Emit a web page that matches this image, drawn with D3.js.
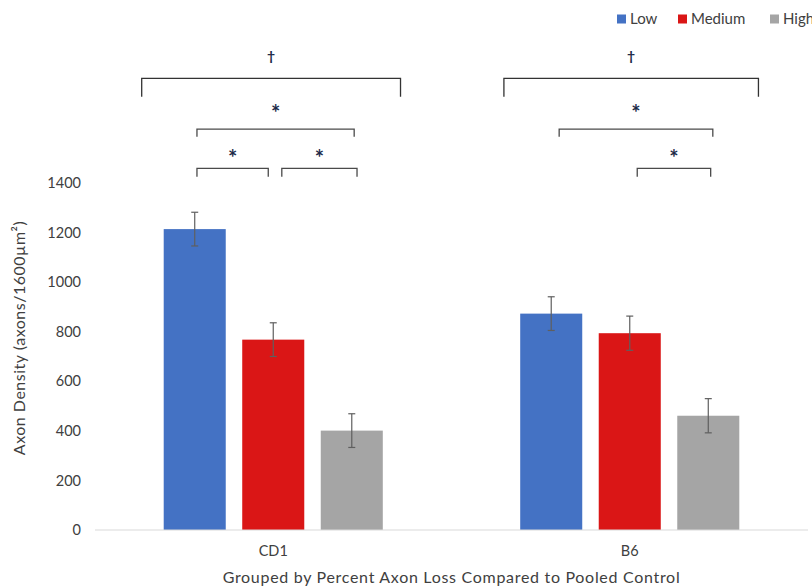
<!DOCTYPE html>
<html><head><meta charset="utf-8">
<script src="https://cdn.jsdelivr.net/npm/d3@7"></script>
<style>body{margin:0;background:#fff;} svg{display:block;}</style>
</head><body>
<svg id="chart" width="812" height="587"></svg>
<script>
// ---- data ----
const categories = ["CD1", "B6"];
const seriesNames = ["Low", "Medium", "High"];
const lowValues = [1214, 873];
const mediumValues = [768, 794];
const highValues = [401, 461];
const lowErrors = [68, 68];
const mediumErrors = [68, 69];
const highErrors = [68, 69];
const yTicks = [0, 200, 400, 600, 800, 1000, 1200, 1400];
const yLabel = "Axon Density (axons/1600µm²)";
const xLabel = "Grouped by Percent Axon Loss Compared to Pooled Control";
// significance brackets: group, start/end as fraction of group band, level (data units), label
const bracketGroups = ["CD1", "CD1", "CD1", "CD1", "B6", "B6", "B6"];
const bracketStart = [0.131, 0.286, 0.286, 0.524, 0.147, 0.302, 0.521];
const bracketEnd =   [0.857, 0.727, 0.486, 0.735, 0.861, 0.733, 0.727];
const bracketLevel = [1822, 1617, 1459, 1459, 1822, 1617, 1459];
const bracketDrop =  [74, 30, 34, 34, 74, 30, 34];
const bracketLabels = ["†", "*", "*", "*", "†", "*", "*"];

const colors = {Low: "#4472C4", Medium: "#DA1616", High: "#A5A5A5"};
const seriesValues = {Low: lowValues, Medium: mediumValues, High: highValues};
const seriesErrors = {Low: lowErrors, Medium: mediumErrors, High: highErrors};

const svg = d3.select("#chart");
const font = "Lato, 'Open Sans', sans-serif";
const textColor = "#404040";

const x0 = d3.scaleBand().domain(categories).range([95, 808]).padding(0);
const x1 = d3.scaleBand().domain(seriesNames).range([0, x0.bandwidth()])
  .paddingInner(0.21).paddingOuter(0.875);
const y = d3.scaleLinear().domain([0, 1400]).range([530, 183]);

// y axis labels
const yAxis = d3.axisLeft(y).tickValues(yTicks).tickFormat(d3.format("d")).tickSize(0).tickPadding(0);
const gy = svg.append("g").attr("transform", "translate(81,0)").call(yAxis);
gy.select(".domain").remove();
gy.selectAll("text").attr("font-family", font).attr("font-size", 14.5).attr("fill", textColor);

// bars
const groups = svg.append("g").selectAll("g").data(categories).join("g")
  .attr("transform", d => `translate(${x0(d)},0)`);
groups.each(function(cat, ci) {
  const g = d3.select(this);
  seriesNames.forEach(s => {
    const v = seriesValues[s][ci], e = seriesErrors[s][ci];
    g.append("rect").attr("x", x1(s)).attr("width", x1.bandwidth())
      .attr("y", y(v)).attr("height", y(0) - y(v)).attr("fill", colors[s]);
    const cx = x1(s) + x1.bandwidth() / 2;
    const eg = g.append("g").attr("stroke", "#5f5f5f").attr("stroke-width", 1.2);
    eg.append("line").attr("x1", cx).attr("x2", cx).attr("y1", y(v + e)).attr("y2", y(v - e));
    eg.append("line").attr("x1", cx - 3.5).attr("x2", cx + 3.5).attr("y1", y(v + e)).attr("y2", y(v + e));
    eg.append("line").attr("x1", cx - 3.5).attr("x2", cx + 3.5).attr("y1", y(v - e)).attr("y2", y(v - e));
  });
});

// baseline
svg.append("line").attr("x1", 95).attr("x2", 808).attr("y1", y(0)).attr("y2", y(0))
  .attr("stroke", "#D9D9D9").attr("stroke-width", 1);

// x axis category labels
const xAxis = d3.axisBottom(x0).tickSize(0).tickPadding(0);
const gx = svg.append("g").attr("transform", `translate(0,${y(0) + 16})`).call(xAxis);
gx.select(".domain").remove();
gx.selectAll("text").attr("font-family", font).attr("font-size", 14.5).attr("fill", textColor);

// axis titles
svg.append("text").attr("x", 451.5).attr("y", 583).attr("text-anchor", "middle")
  .attr("font-family", font).attr("font-size", 16).attr("letter-spacing", 0.7)
  .attr("fill", textColor).text(xLabel);
svg.append("text").attr("transform", "translate(25,338) rotate(-90)").attr("text-anchor", "middle")
  .attr("font-family", font).attr("font-size", 16).attr("letter-spacing", 0.5)
  .attr("fill", textColor).text(yLabel);

// legend
const legendX = [617, 678, 770];
seriesNames.forEach((s, i) => {
  svg.append("rect").attr("x", legendX[i]).attr("y", 14.5).attr("width", 9).attr("height", 9).attr("fill", colors[s]);
  svg.append("text").attr("x", legendX[i] + 13).attr("y", 24).attr("font-family", font)
    .attr("font-size", 15).attr("fill", textColor).text(s);
});

// significance brackets
const bg = svg.append("g");
bracketGroups.forEach((grp, i) => {
  const xa = x0(grp) + bracketStart[i] * x0.bandwidth();
  const xb = x0(grp) + bracketEnd[i] * x0.bandwidth();
  const yl = y(bracketLevel[i]), yd = y(bracketLevel[i] - bracketDrop[i]);
  bg.append("path").attr("d", `M${xa},${yd}V${yl}H${xb}V${yd}`)
    .attr("fill", "none").attr("stroke", bracketDrop[i] > 50 ? "#333" : "#4a4a4a").attr("stroke-width", 1.3);
  const isDagger = bracketLabels[i] === "†";
  const fs = isDagger ? 14 : 22;
  // label centre above bracket line
  const above = isDagger ? 0 : (bracketDrop[i] < 32 ? 20.5 : 15);
  const baseY = isDagger ? yl - 17 : yl - above + 0.58 * fs;
  bg.append("text").attr("x", (xa + xb) / 2).attr("y", baseY)
    .attr("text-anchor", "middle").attr("font-family", font)
    .attr("font-size", fs).attr("font-weight", "bold").attr("fill", "#1c2a48")
    .text(bracketLabels[i]);
});
</script>
</body></html>
